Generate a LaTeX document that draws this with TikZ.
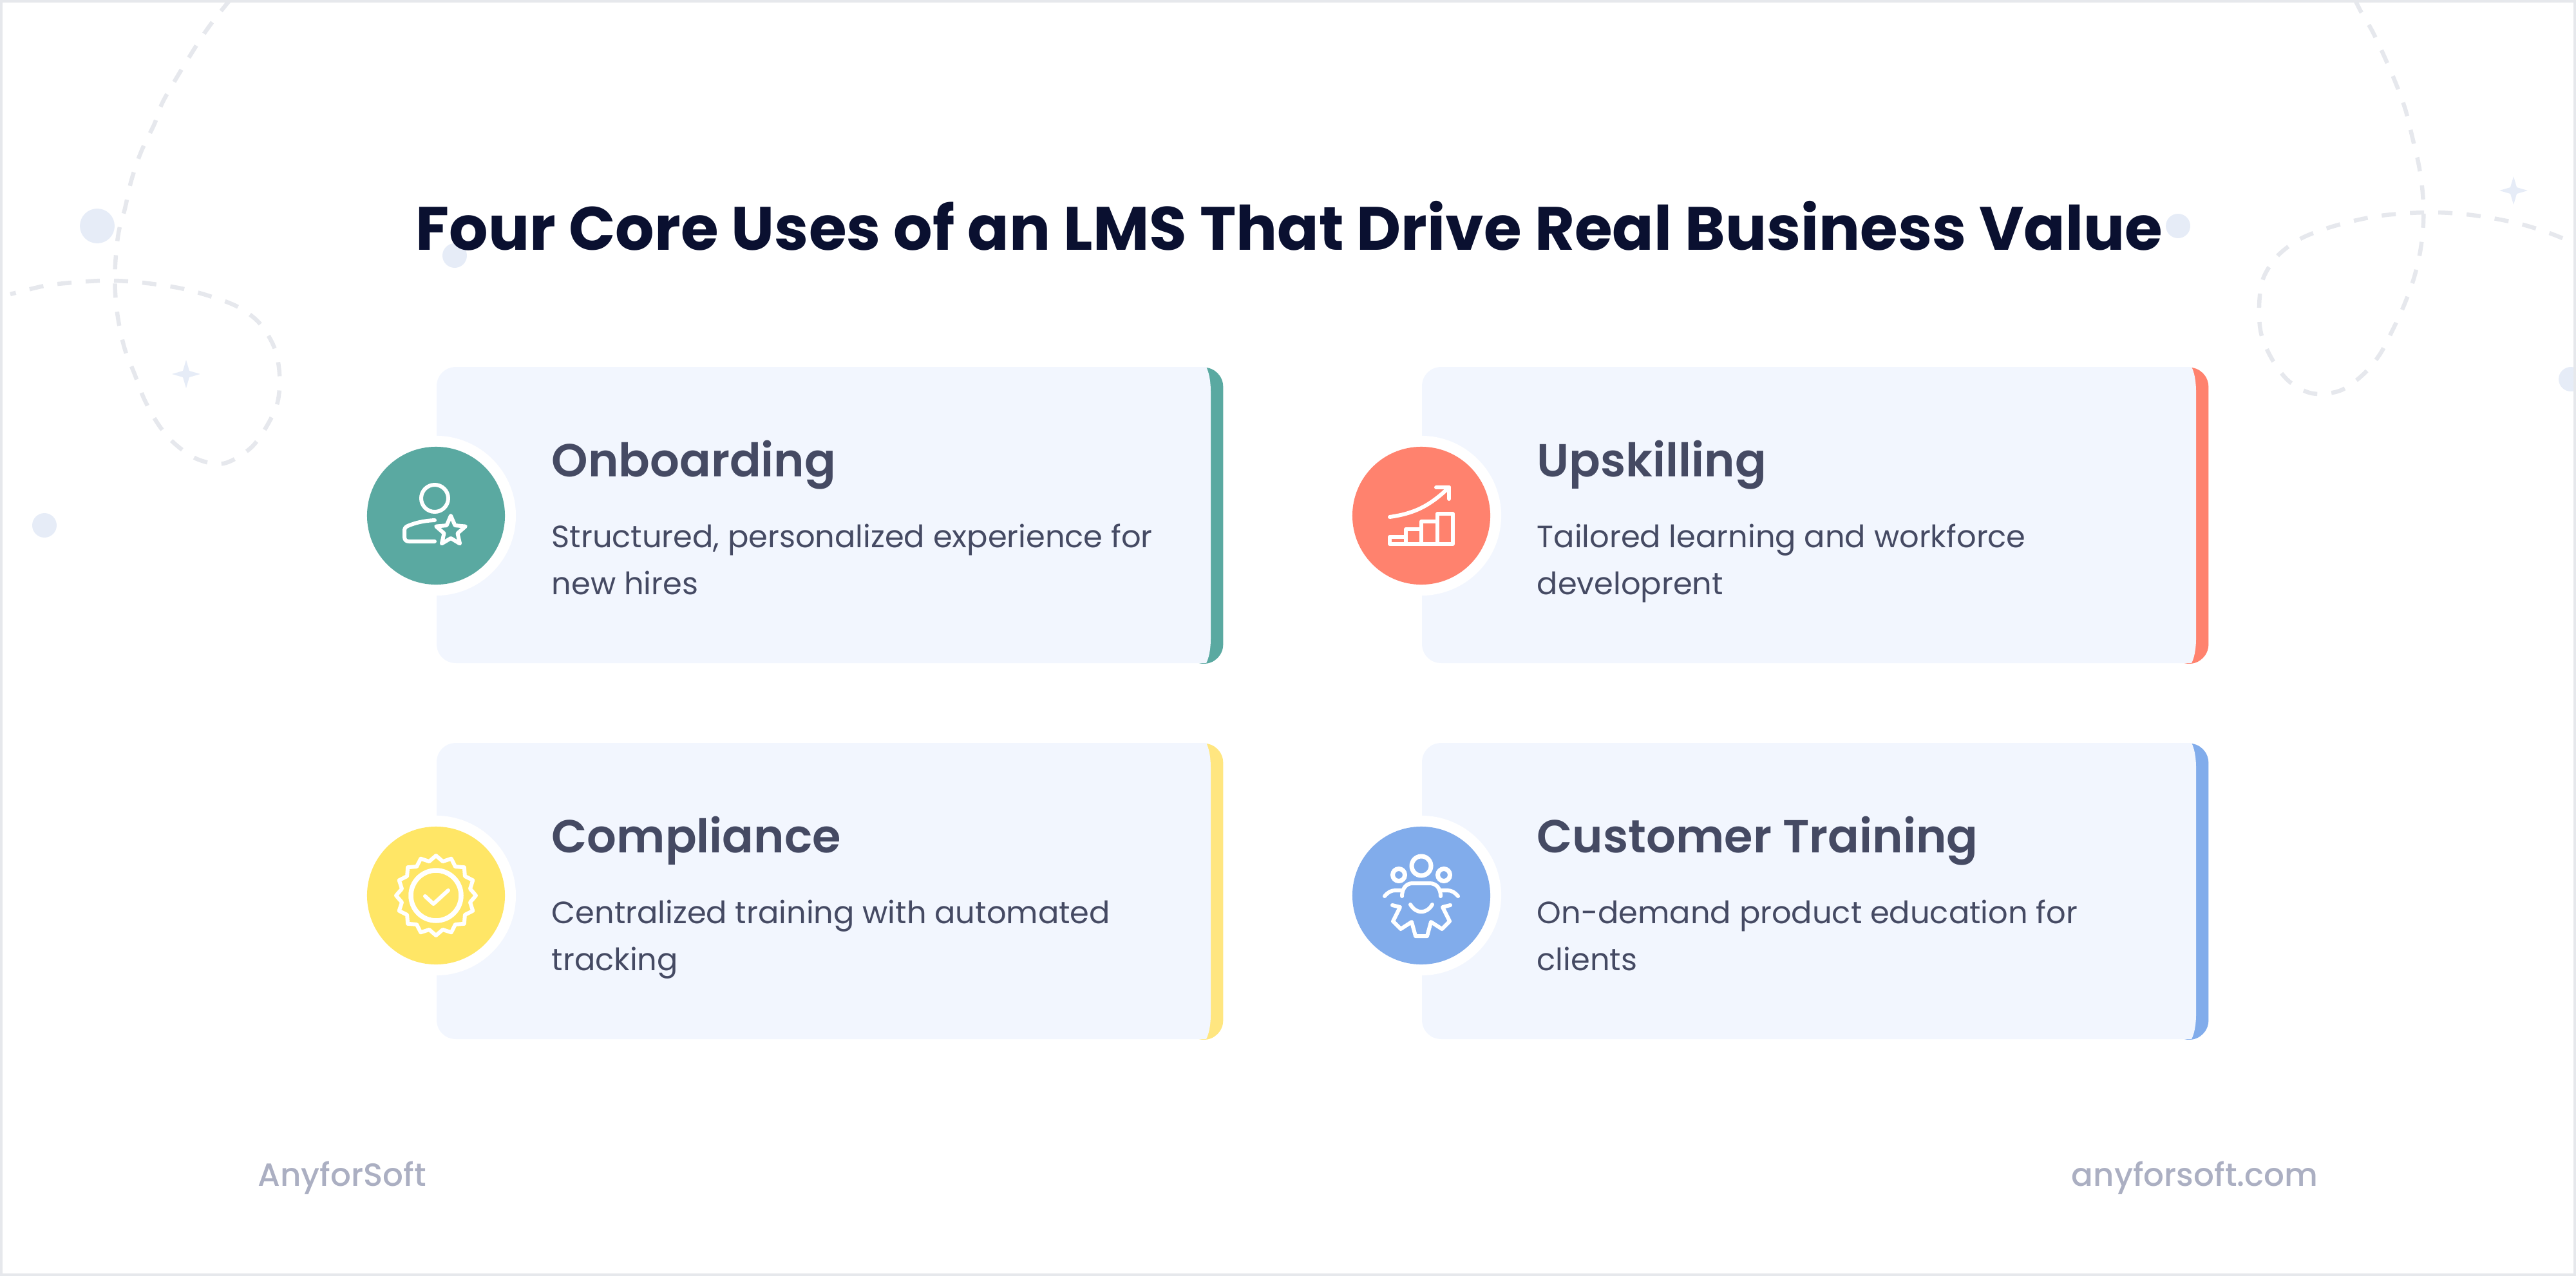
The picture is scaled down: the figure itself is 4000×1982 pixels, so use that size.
\documentclass[tikz,border=0pt]{standalone}
\usepackage{fontspec}
\setmainfont{Poppins}
\newfontfamily\semifont{Poppins SemiBold}
\newfontfamily\medfont{Poppins Medium}
\usetikzlibrary{positioning}
\definecolor{ink}{HTML}{0A1030}
\definecolor{slate}{HTML}{454A63}
\definecolor{mist}{HTML}{E6ECF7}
\definecolor{dashgray}{HTML}{E6E8ED}
\definecolor{framegray}{HTML}{E6E8EC}
\definecolor{panel}{HTML}{F2F6FE}
\definecolor{footgray}{HTML}{ABAFC2}
\definecolor{tealc}{HTML}{5AA9A1}
\definecolor{coralc}{HTML}{FF826E}
\definecolor{yellowc}{HTML}{FFE666}
\definecolor{yellowbar}{HTML}{FFE680}
\definecolor{bluec}{HTML}{81ACEB}
\begin{document}
\begin{tikzpicture}[x=0.01cm, y=-0.01cm,
	head/.style = {anchor=base west, inner sep=0, text=slate, font=\fontsize{20.45}{24}\selectfont\semifont},
	body/.style = {anchor=base west, inner sep=0, text=slate, align=left, font=\fontsize{13.62}{20.5}\selectfont},
	foot/.style = {anchor=base west, inner sep=0, text=footgray, font=\fontsize{14.2}{18}\selectfont\medfont},
	base/.style = {rectangle, rounded corners=0.3cm, minimum width=0.6cm, minimum height=4.6cm, inner sep=0},
	ring/.style = {circle, fill=white, minimum size=2.48cm, inner sep=0},
	badge/.style = {circle, minimum size=2.14cm, inner sep=0},
	dot/.style = {fill=mist},
	trail/.style = {draw=dashgray, line width=0.065cm, dash pattern=on 0.22cm off 0.22cm},
	iconline/.style = {draw=white, line width=0.06cm, line cap=round, line join=round}]
	\useasboundingbox (0,0) rectangle (4000,1982);
	% background trails
	\draw[trail] plot[smooth, tension=0.55] coordinates {(357,0) (327,38) (301,77) (255,154) (240,192) (219,236) (204,280) (194,324) (184,362) (179,411) (179,455) (184,499) (194,543) (209,581) (224,620) (245,658) (270,688) (306,713) (347,720) (388,697) (413,664) (431,625) (434,581) (426,540) (403,502) (370,477) (329,461) (286,449) (245,442) (199,437) (158,436) (112,439) (69,444) (16,457)};
	\draw[trail] plot[smooth, tension=0.55] coordinates {(3657,0) (3666,18) (3684,49) (3702,87) (3720,129) (3735,170) (3746,214) (3756,257) (3762,301) (3763,346) (3758,391) (3748,433) (3733,474) (3715,513) (3695,551) (3668,583) (3633,607) (3590,611) (3554,592) (3528,558) (3511,518) (3508,475) (3514,433) (3537,397) (3572,371) (3612,355) (3655,343) (3697,335) (3742,331) (3784,330) (3829,333) (3871,339) (3914,348) (3956,361) (3996,377)};
	% dots and sparkles
	\fill[dot] (151,351) circle (27);
	\fill[dot] (706,397) circle (19);
	\fill[dot] (69,816) circle (19);
	\fill[dot] (3382,351) circle (19);
	\fill[dot] (3992,589) circle (19);
	\foreach \sx/\sy in {289/581, 3903/296}
		\fill[dot] (\sx,\sy-22) -- (\sx+5,\sy-5) -- (\sx+22,\sy) -- (\sx+5,\sy+5) -- (\sx,\sy+22) -- (\sx-5,\sy+5) -- (\sx-22,\sy) -- (\sx-5,\sy-5) -- cycle;
	% frame
	\draw[framegray, line width=0.04cm] (2,2) rectangle (3998,1980);
	% title
	\node[anchor=base, inner sep=0, text=ink, font=\fontsize{27.05}{32}\selectfont\bfseries] (title) at (2002,388) {Four Core Uses of an LMS That Drive Real Business Value};
	% cards
	\foreach \cx/\cy/\by/\col/\barc/\nm/\htext/\btext in {
		678/570/801/tealc/tealc/on/Onboarding/{Structured, personalized experience for\\new hires},
		2208/570/801/coralc/coralc/up/Upskilling/{Tailored learning and workforce\\developrent},
		678/1154/1391/yellowc/yellowbar/co/Compliance/{Centralized training with automated\\tracking},
		2208/1154/1391/bluec/bluec/cu/Customer Training/{On-demand product education for\\clients}} {
		\node[base, fill=\barc, anchor=north east] (\nm card) at (\cx+1222,\cy) {};
		\fill[panel] (\cx+30,\cy) -- (\cx+1195,\cy) .. controls (\cx+1199,\cy+8) and (\cx+1202,\cy+20) .. (\cx+1202,\cy+40) -- (\cx+1202,\cy+420) .. controls (\cx+1202,\cy+440) and (\cx+1199,\cy+452) .. (\cx+1195,\cy+460) -- (\cx+30,\cy+460) .. controls (\cx+13,\cy+460) and (\cx,\cy+447) .. (\cx,\cy+430) -- (\cx,\cy+30) .. controls (\cx,\cy+13) and (\cx+13,\cy) .. (\cx+30,\cy) -- cycle;
		\node[ring] (\nm ring) at (\cx-1,\by) {};
		\node[badge, fill=\col] (\nm badge) at (\nm ring) {};
		\node[head] (\nm head) at (\cx+178,\cy+170) {\htext};
		\node[body] (\nm text) at (\cx+178,\cy+353) {\btext};
	}
	% icons
	\begin{scope}[shift={(onbadge.center)}]
		\draw[iconline] (-2,-27) circle (21);
		\draw[iconline] (-2,7) .. controls (-20,8) and (-32,11) .. (-44,16) .. controls (-48,18) and (-49,20) .. (-49,24) -- (-49,33) .. controls (-49,38) and (-46,40) .. (-42,40) -- (-2,40);
		\draw[iconline] (23,0) -- (29.5,15.1) -- (45.8,16.6) -- (33.5,27.4) -- (37.1,43.4) -- (23,35) -- (8.9,43.4) -- (12.5,27.4) -- (0.2,16.6) -- (16.5,15.1) -- cycle;
	\end{scope}
	\begin{scope}[shift={(upbadge.center)}]
		\draw[iconline] (-49,2) .. controls (-15,-3) and (10,-12) .. (43,-44);
		\draw[iconline] (23,-44) -- (43,-44) -- (43,-26);
		\draw[iconline, line cap=butt] (-49,33) rectangle (-24,44);
		\draw[iconline, line cap=butt] (-24,21) rectangle (0,44);
		\draw[iconline, line cap=butt] (0,9) rectangle (25,44);
		\draw[iconline, line cap=butt] (25,-3) rectangle (49,44);
	\end{scope}
	\begin{scope}[shift={(cobadge.center)}]
		\draw[iconline, line width=0.075cm] (0,0) circle (39);
		\draw[iconline] (-17,1) -- (-4,13) -- (19,-8);
		\draw[iconline] plot[samples=33, domain=0:32] ({(58+4*cos(\x*180))*sin(\x*11.25)},{(58+4*cos(\x*180))*cos(\x*11.25)}) -- cycle;
	\end{scope}
	\begin{scope}[shift={(cubadge.center)}]
		\draw[iconline, line width=0.07cm] (0,-46) circle (15);
		\draw[iconline, line width=0.07cm] (-35,-32) circle (9.5);
		\draw[iconline, line width=0.07cm] (35,-32) circle (9.5);
		\draw[iconline] (-30,1) .. controls (-30,-10) and (-24,-19) .. (-14,-19) -- (13,-19) .. controls (24,-19) and (30,-10) .. (30,1);
		\draw[iconline] (-57,1) .. controls (-52,-5) and (-47,-8) .. (-40,-8) -- (-29,-8);
		\draw[iconline] (57,1) .. controls (52,-5) and (47,-8) .. (40,-8) -- (29,-8);
		\draw[iconline] (-17,14) .. controls (-8,29) and (8,29) .. (17,14);
		\draw[iconline] (-45,15) -- (-33,18) -- (-44,40) -- (-32,52) -- (-15,41) -- (-9,63) -- (9,63) -- (15,41) -- (32,52) -- (44,40) -- (33,18) -- (45,15);
	\end{scope}
	% footer
	\node[foot] (leftfoot) at (400,1842) {AnyforSoft};
	\node[foot, anchor=base east] (rightfoot) at (3600,1842) {anyforsoft.com};
\end{tikzpicture}
\end{document}
